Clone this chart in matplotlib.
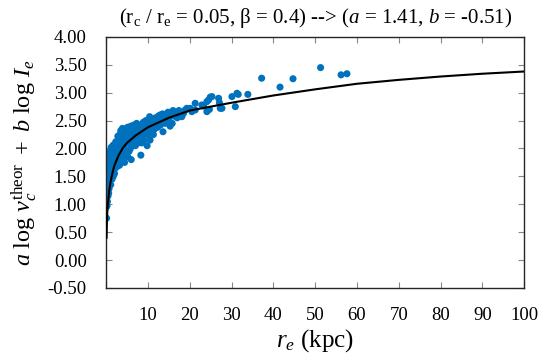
import matplotlib
matplotlib.use("Agg")
import matplotlib.pyplot as plt

plt.rcParams['font.family'] = ['Liberation Serif', 'DejaVu Serif']
plt.rcParams['mathtext.fontset'] = 'custom'
plt.rcParams['mathtext.rm'] = 'Liberation Serif'
plt.rcParams['mathtext.it'] = 'Liberation Serif:italic'

# scatter data (r_e in kpc, y value)
pts_x = [
    0.1, 0.15, 0.2, 0.3, 0.2, 0.35, 0.15, 0.3, 0.4, 0.2, 0.45, 0.25, 0.35, 0.15, 0.4, 0.3, 0.5, 0.25, 0.45, 0.3, 0.1, 0.5, 0.45,
    0.6, 0.7, 0.8, 0.9, 0.6, 1.0, 0.7, 1.2, 0.8, 1.1, 0.9, 1.3, 0.7, 1.0, 1.4, 1.2, 1.4, 1.3, 1.5, 1.5, 0.6, 1.1,
    1.7, 1.8, 2.0, 2.2, 1.9, 2.3, 2.0, 2.5, 1.8, 2.2, 2.6, 2.0, 2.4, 2.8, 1.7, 2.6, 2.9, 2.3, 2.7, 2.9, 3.0, 2.5, 2.8,
    3.2, 3.5, 3.3, 3.7, 4.0, 3.4, 3.8, 4.2, 3.2, 3.6, 4.1, 4.5, 3.3, 3.5, 3.8, 4.3, 4.7, 4.0, 4.6, 4.9, 4.4, 4.8, 3.9, 4.5,
    5.2, 5.5, 5.8, 6.0, 6.3, 5.3, 5.7, 6.1, 6.5, 5.4, 5.9, 6.4, 6.8, 7.2, 5.6, 6.2, 6.7, 7.1, 7.5, 7.8, 5.9, 6.6, 7.3, 7.0, 7.7, 8.0, 5.1, 6.9,
    8.3, 8.5, 8.8, 9.0, 9.3, 8.6, 9.1, 9.6, 10.0, 10.3, 8.9, 9.5, 10.1, 10.6, 10.8, 10.4, 9.8, 10.5, 8.2, 11.0,
    11.3, 11.6, 12.0, 12.3, 12.7, 11.8, 12.5, 13.0, 13.3, 13.6, 13.8, 12.9, 11.4, 13.5,
    14.2, 14.6, 15.0, 15.4, 15.8, 16.2, 16.6, 17.0, 17.4, 14.8, 16.0, 17.8, 15.3,
    18.1, 18.5, 18.9, 19.3, 20.1, 20.5, 21.3, 21.3, 22.9, 23.3, 24.1, 24.5, 24.1, 24.7, 24.9, 25.3,
    26.9, 27.1, 27.3, 27.7, 30.1, 31.3, 31.6, 30.9, 33.9, 37.2, 41.6, 44.7, 51.3, 56.2, 57.6,
]
pts_y = [
    0.75, 0.96, 0.98, 1.05, 1.2, 1.25, 1.3, 1.35, 1.38, 1.42, 1.45, 1.5, 1.55, 1.6, 1.62, 1.68, 1.72, 1.78, 1.85, 1.9, 1.45, 1.3, 1.15,
    1.2, 1.28, 1.4, 1.5, 1.55, 1.6, 1.65, 1.7, 1.75, 1.8, 1.85, 1.9, 1.92, 1.95, 1.98, 2.02, 1.45, 1.6, 1.75, 1.88, 1.82, 1.35,
    1.5, 1.6, 1.55, 1.65, 1.72, 1.78, 1.85, 1.82, 1.92, 1.95, 1.9, 2.02, 2.05, 2.0, 2.06, 2.1, 2.15, 2.12, 1.68, 1.75, 1.85, 1.98, 2.22,
    1.7, 1.78, 1.9, 1.95, 1.85, 2.0, 2.05, 2.0, 2.1, 2.15, 2.12, 2.08, 2.25, 2.32, 2.22, 2.2, 2.15, 2.28, 2.25, 1.95, 1.75, 2.3, 2.36, 1.9,
    1.85, 1.95, 2.0, 1.8, 2.05, 2.1, 2.15, 2.12, 2.18, 2.25, 2.22, 2.28, 2.2, 2.15, 2.33, 2.36, 2.32, 2.28, 2.35, 2.22, 2.4, 2.42, 2.45, 2.05, 2.1, 2.3, 2.38, 2.38,
    1.88, 2.1, 2.2, 2.15, 2.28, 2.35, 2.4, 2.33, 2.25, 2.38, 2.47, 2.5, 2.45, 2.52, 2.3, 2.57, 2.05, 2.15, 2.42, 2.42,
    2.25, 2.35, 2.45, 2.38, 2.5, 2.55, 2.58, 2.42, 2.55, 2.3, 2.48, 2.6, 2.5, 2.62,
    2.45, 2.55, 2.5, 2.6, 2.45, 2.58, 2.65, 2.55, 2.68, 2.65, 2.68, 2.62, 2.4,
    2.57, 2.63, 2.69, 2.72, 2.72, 2.66, 2.81, 2.69, 2.78, 2.76, 2.84, 2.87, 2.66, 2.70, 2.92, 2.93,
    2.90, 2.82, 2.72, 2.72, 2.93, 2.99, 2.97, 2.75, 2.97, 3.26, 3.10, 3.25, 3.45, 3.32, 3.34,
]

# model curve
curve_x = [0.1, 0.2, 0.35, 0.5, 0.75, 1.0, 1.5, 2.0, 3.0, 4.0, 5.0, 7.0, 10, 15, 20, 30, 40, 50, 60, 70, 80, 90, 100]
curve_y = [0.40, 0.75, 0.95, 1.08, 1.25, 1.38, 1.56, 1.70, 1.88, 2.01, 2.10, 2.23, 2.38, 2.55, 2.68, 2.82, 2.95, 3.06, 3.16, 3.23, 3.29, 3.34, 3.38]

xticks = [0, 10, 20, 30, 40, 50, 60, 70, 80, 90, 100]
xticklabels = ['', '10', '20', '30', '40', '50', '60', '70', '80', '90', '100']
yticks = [-0.5, 0.0, 0.5, 1.0, 1.5, 2.0, 2.5, 3.0, 3.5, 4.0]

fig = plt.figure(figsize=(5.5, 3.55), dpi=100)
ax = fig.add_axes([0.193, 0.189, 0.760, 0.707])

ax.scatter(pts_x, pts_y, s=26, color='#0072BD', edgecolors='none', zorder=2)
ax.plot(curve_x, curve_y, color='black', lw=1.5, zorder=3)

ax.set_xlim(0, 100)
ax.set_ylim(-0.5, 4.0)
ax.set_xticks(xticks)
ax.set_xticklabels(xticklabels)
ax.set_yticks(yticks)
ax.set_yticklabels(['%.2f' % v for v in yticks])

ax.tick_params(direction='in', length=4, width=0.8, color='#888888',
               top=True, right=True, labelsize=13.5)
ax.tick_params(axis='y', pad=14)
ax.tick_params(axis='x', pad=14)
for sp in ax.spines.values():
    sp.set_color('#262626')
    sp.set_linewidth(1.0)

ax.set_title(r'(r$_\mathrm{c}$ / r$_\mathrm{e}$ = 0.05, β = 0.4) --> ($a$ = 1.41, $b$ = -0.51)',
             fontsize=15, pad=10)
ax.set_xlabel(r'$r_e$ (kpc)', fontsize=18, labelpad=2)
ax.set_ylabel(r'$a\ \mathrm{log}\ v_c^{\mathrm{theor}}\ +\ b\ \mathrm{log}\ I_e$', fontsize=17.5, labelpad=6)

fig.savefig('out.png', dpi=100)
